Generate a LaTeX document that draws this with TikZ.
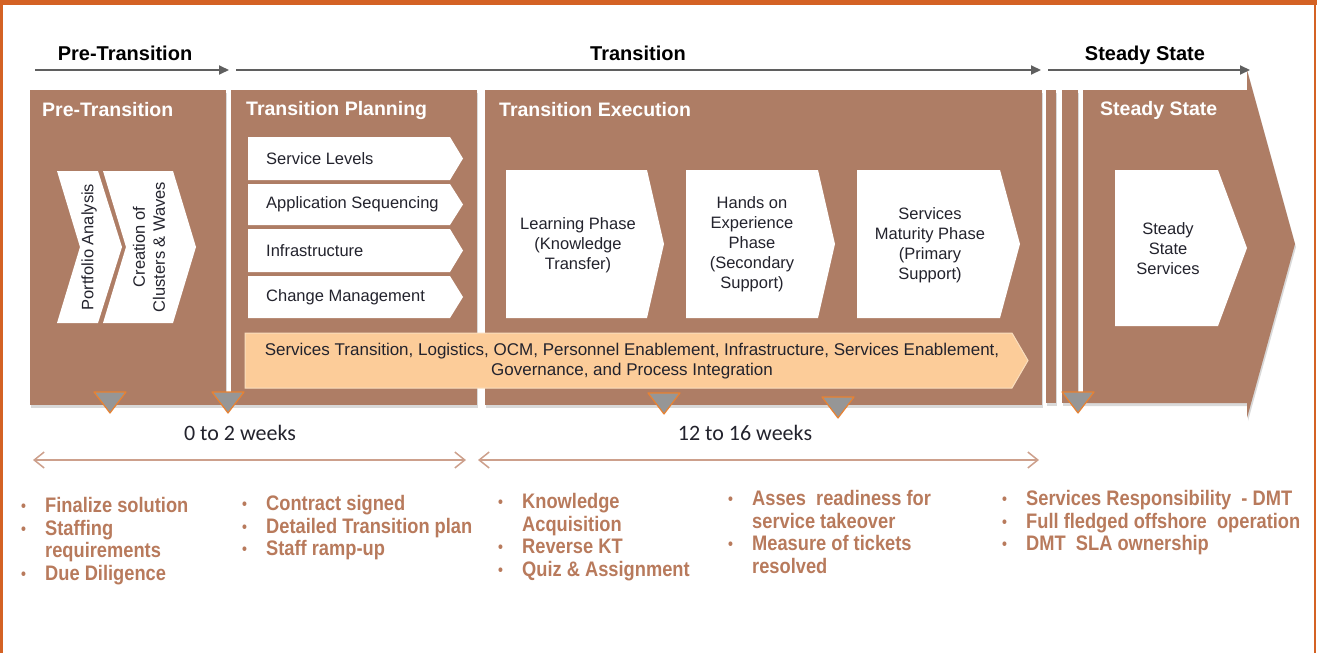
\documentclass[tikz,border=0pt]{standalone}
\usepackage{fontspec}
\setmainfont{Liberation Sans}
\newfontfamily\narrowfont[FakeStretch=0.87]{Liberation Sans}
\newfontfamily\calfont{Carlito}
\usetikzlibrary{arrows.meta,shadows}

\definecolor{panelbrown}{RGB}{174,125,101}
\definecolor{frameorange}{RGB}{212,98,36}
\definecolor{barpeach}{RGB}{252,204,153}
\definecolor{barline}{RGB}{250,222,190}
\definecolor{bulletbrown}{RGB}{184,122,92}
\definecolor{spanbrown}{RGB}{205,160,140}
\definecolor{arrowgray}{RGB}{95,95,95}
\definecolor{markgray}{RGB}{150,150,150}
\definecolor{markorange}{RGB}{232,130,50}
\definecolor{textdark}{RGB}{35,35,45}

% box with a point on the right: left, top, right, bottom, tip
\def\arrowbox#1#2#3#4#5{(#1,#2) -- (#3,#2) -- (#5,{(#2+#4)/2}) -- (#3,#4) -- (#1,#4) -- cycle}
% milestone marker under the panels
\def\milestone#1#2{\draw[milestone] (#1-16,#2) -- (#1+16,#2) -- (#1,#2+21) -- cycle;}
\def\bul{\makebox[24pt][l]{\raisebox{1pt}{\fontsize{16}{16}\selectfont\textbullet}}}
\def\cont{\hspace*{24pt}}

\begin{document}
\begin{tikzpicture}[x=1pt,y=-1pt,
  panel/.style={fill=panelbrown, drop shadow={opacity=0.3,shadow xshift=1pt,shadow yshift=-3pt}},
  phase/.style={draw=arrowgray, line width=2pt, -{Triangle[length=10pt,width=9pt]}},
  span/.style={draw=spanbrown, line width=1.5pt, {Straight Barb[length=10pt,width=16pt]}-{Straight Barb[length=10pt,width=16pt]}},
  milestone/.style={fill=markgray, draw=markorange, line width=1.2pt, line join=round},
  phaselabel/.style={text height=14pt, text depth=4pt, font=\bfseries\fontsize{20}{24}\selectfont},
  paneltitle/.style={anchor=west, inner sep=0pt, text=white, font=\bfseries\fontsize{19.5}{24}\selectfont},
  itemtext/.style={anchor=west, inner sep=0pt, text=textdark, font=\fontsize{16.5}{20}\selectfont},
  boxtext/.style={align=center, text=textdark, font=\fontsize{16.5}{20}\selectfont},
  weeks/.style={text=textdark, font=\calfont\fontsize{22}{26}\selectfont},
  bullets/.style={anchor=north west, inner sep=0pt, align=left, text=bulletbrown,
    font=\narrowfont\bfseries\fontsize{21}{22.7}\selectfont}]
\useasboundingbox (0,0) rectangle (1317,653);
% frame
\fill[frameorange] (0,0) rectangle (1317,5);
\draw[frameorange, line width=3pt] (1.5,0) -- (1.5,653);
\draw[frameorange, line width=2pt] (1315,0) -- (1315,653);

% phase arrows on top
\node[phaselabel] (top-pre) at (125,55) {Pre-Transition};
\node[phaselabel] (top-trans) at (638,55) {Transition};
\node[phaselabel] (top-steady) at (1145,55) {Steady State};
\coordinate (pre-a) at (35,70);
\coordinate (pre-b) at (229,70);
\coordinate (trans-a) at (236,70);
\coordinate (trans-b) at (1041,70);
\coordinate (steady-a) at (1048,70);
\coordinate (steady-b) at (1250,70);
\draw[phase] (pre-a) -- (pre-b);
\draw[phase] (trans-a) -- (trans-b);
\draw[phase] (steady-a) -- (steady-b);

% panels
\fill[panel] (30,90) rectangle (226,405);
\fill[panel] (231,90) rectangle (477,405);
\fill[panel] (485,90) rectangle (1042,405);
\fill[panel] (1046,90) rectangle (1056,403);
\fill[panel] (1062,90) rectangle (1078,403);
\fill[panel] (1083,90) -- (1247,90) -- (1247,70) -- (1295,244) -- (1247,418)
  -- (1247,403) -- (1083,403) -- cycle;

\node[paneltitle] (pre-title) at (42,110) {Pre-Transition};
\node[paneltitle] (plan-title) at (246,110) {Transition Planning};
\node[paneltitle] (exec-title) at (499,110) {Transition Execution};
\node[paneltitle] (steady-title) at (1100,110) {Steady State};

% pre-transition chevrons
\fill[white] (57,171) -- (98,171) -- (122,247) -- (98,323) -- (57,323) -- (80,247) -- cycle;
\fill[white] (103,171) -- (173,171) -- (196,247) -- (173,323) -- (103,323) -- (126,247) -- cycle;
\node[boxtext, rotate=90] (portfolio) at (89,247) {Portfolio Analysis};
\node[boxtext, rotate=90] (clusters) at (149,247) {Creation of\\Clusters \& Waves};

% planning items
\fill[white] \arrowbox{248}{137}{450}{180}{463};
\fill[white] \arrowbox{248}{184}{450}{225}{463};
\fill[white] \arrowbox{248}{229}{450}{272}{463};
\fill[white] \arrowbox{248}{276}{450}{318}{463};
\node[itemtext] (levels) at (266,158.5) {Service Levels};
\node[itemtext] (sequencing) at (266,204.5) {Application Sequencing};
\node[itemtext] (infra) at (266,250.5) {Infrastructure};
\node[itemtext] (change) at (266,297) {Change Management};

% execution phases
\fill[white] \arrowbox{506}{170}{647}{318}{664};
\fill[white] \arrowbox{686}{170}{818}{318}{835};
\fill[white] \arrowbox{857}{170}{1000}{318}{1020};
\fill[white] \arrowbox{1115}{170}{1218}{326}{1247};
\node[boxtext] (learning) at (578,245) {Learning Phase\\(Knowledge\\Transfer)};
\node[boxtext] (handson) at (752,244) {Hands on\\Experience\\Phase\\(Secondary\\Support)};
\node[boxtext] (maturity) at (930,245) {Services\\Maturity Phase\\(Primary\\Support)};
\node[boxtext] (steadysvc) at (1168,249) {Steady\\State\\Services};

% enablement bar
\filldraw[fill=barpeach, draw=barline, line width=1pt] \arrowbox{245}{333}{1012}{388}{1028};
\node[boxtext, font=\fontsize{17}{20}\selectfont] (enable) at (632,361)
  {Services Transition, Logistics, OCM, Personnel Enablement, Infrastructure, Services Enablement,\\
   Governance, and Process Integration};

% milestones
\milestone{110}{392}
\milestone{228}{392}
\milestone{664}{393}
\milestone{838}{397}
\milestone{1078}{392}

% durations
\node[weeks] (wk-pre) at (240,433) {0 to 2 weeks};
\node[weeks] (wk-trans) at (745,433) {12 to 16 weeks};
\coordinate (span1-a) at (33,460);
\coordinate (span1-b) at (466,460);
\coordinate (span2-a) at (478,460);
\coordinate (span2-b) at (1039,460);
\draw[span] (span1-a) -- (span1-b);
\draw[span] (span2-a) -- (span2-b);

% activities
\node[bullets] (list-pre) at (21,497) {\bul Finalize solution\\ \bul Staffing\\ \cont requirements\\ \bul Due Diligence};
\node[bullets] (list-plan) at (242,495) {\bul Contract signed\\ \bul Detailed Transition plan\\ \bul Staff ramp-up};
\node[bullets] (list-learn) at (498,493) {\bul Knowledge\\ \cont Acquisition\\ \bul Reverse KT\\ \bul Quiz \& Assignment};
\node[bullets] (list-ready) at (728,490) {\bul Asses\ \ readiness for\\ \cont service takeover\\ \bul Measure of tickets\\ \cont resolved};
\node[bullets] (list-steady) at (1002,490) {\bul Services Responsibility\ \ - DMT\\ \bul Full fledged offshore\ \ operation\\ \bul DMT\ \ SLA ownership};
\end{tikzpicture}
\end{document}
